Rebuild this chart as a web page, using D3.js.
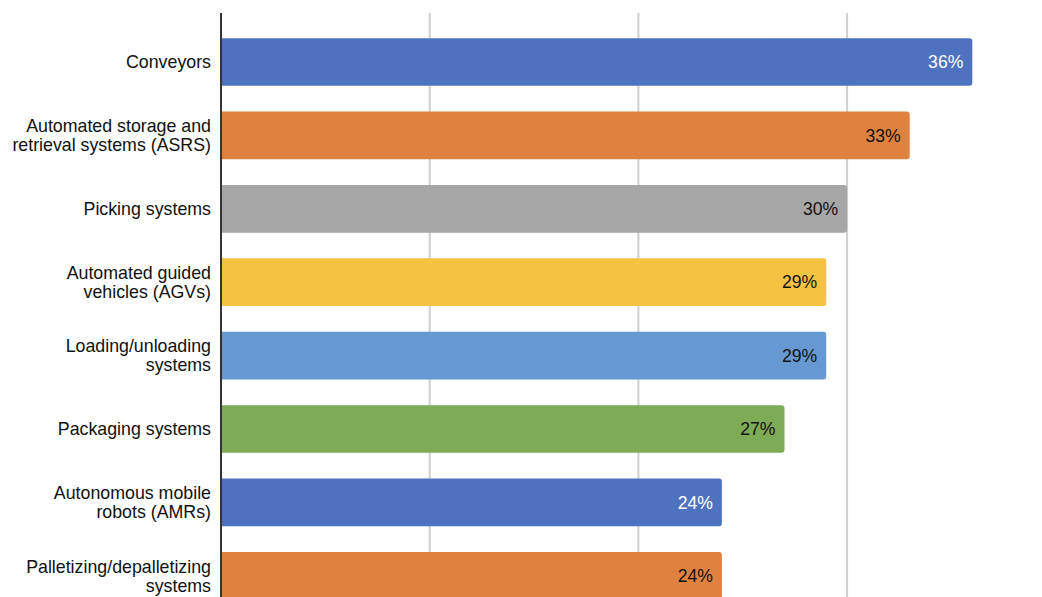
<!DOCTYPE html>
<html><head><meta charset="utf-8">
<script src="https://cdn.jsdelivr.net/npm/d3@7"></script>
<style>body{margin:0;background:#fff;}svg{display:block;font-family:"Liberation Sans",Arial,sans-serif;}</style>
</head><body>
<svg id="c" width="1042" height="597"></svg>
<script>
const categories = [
  ["Conveyors"],
  ["Automated storage and", "retrieval systems (ASRS)"],
  ["Picking systems"],
  ["Automated guided", "vehicles (AGVs)"],
  ["Loading/unloading", "systems"],
  ["Packaging systems"],
  ["Autonomous mobile", "robots (AMRs)"],
  ["Palletizing/depalletizing", "systems"]
];
const values = [36, 33, 30, 29, 29, 27, 24, 24];
const colors = ["#4f72c0", "#e0823f", "#a6a6a6", "#f5c242", "#6699d1", "#7dab56", "#4f72c0", "#e0823f"];
const labelColors = ["#ffffff", "#111111", "#111111", "#111111", "#111111", "#111111", "#ffffff", "#111111"];
const gridTicks = [10, 20, 30];

const svg = d3.select("#c");
const x = d3.scaleLinear().domain([0, 10]).range([221, 429.7]);
const idx = d3.range(categories.length);
const y = d3.scaleBand().domain(idx).range([25.3, 25.3 + 8 * 73.4]).paddingInner(0.35).paddingOuter(0.175);

// gridlines
svg.selectAll("line.grid").data(gridTicks).join("line")
  .attr("x1", d => x(d)).attr("x2", d => x(d))
  .attr("y1", 13).attr("y2", 597)
  .attr("stroke", "#cfcfcf").attr("stroke-width", 2);

// bars with rounded right corners
const r = 3;
svg.selectAll("path.bar").data(idx).join("path")
  .attr("fill", i => colors[i])
  .attr("d", i => {
    const x0 = x(0) + 1, x1 = x(values[i]), y0 = y(i), h = y.bandwidth();
    return `M${x0},${y0}H${x1 - r}Q${x1},${y0} ${x1},${y0 + r}V${y0 + h - r}Q${x1},${y0 + h} ${x1 - r},${y0 + h}H${x0}Z`;
  });

// axis line
svg.append("line").attr("x1", 221).attr("x2", 221).attr("y1", 13).attr("y2", 597)
  .attr("stroke", "#333").attr("stroke-width", 2);

// category labels
const lab = svg.selectAll("text.cat").data(idx).join("text")
  .attr("text-anchor", "end").attr("font-size", 17.8).attr("fill", "#111");
lab.each(function(i) {
  const lines = categories[i];
  const cy = y(i) + y.bandwidth() / 2;
  const lh = 19;
  const t = d3.select(this);
  lines.forEach((s, k) => {
    t.append("tspan").attr("x", 211)
      .attr("y", cy + (k - (lines.length - 1) / 2) * lh)
      .attr("dy", "0.35em").text(s);
  });
});

// value labels
svg.selectAll("text.val").data(idx).join("text")
  .attr("x", i => x(values[i]) - 9)
  .attr("y", i => y(i) + y.bandwidth() / 2)
  .attr("dy", "0.35em")
  .attr("text-anchor", "end").attr("font-size", 17.6)
  .attr("fill", i => labelColors[i])
  .text(i => values[i] + "%");
</script>
</body></html>
